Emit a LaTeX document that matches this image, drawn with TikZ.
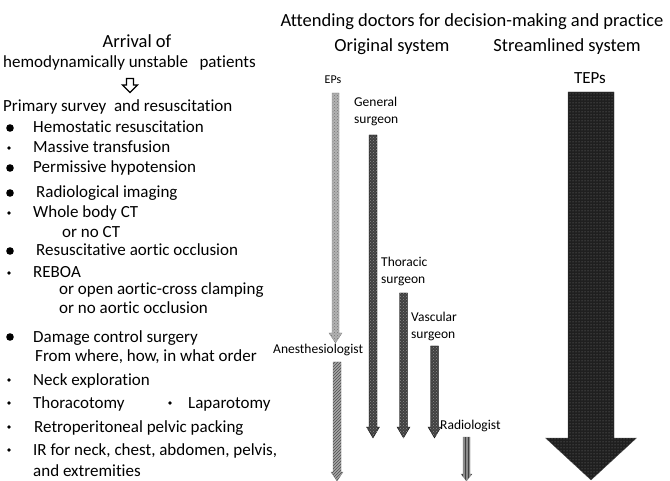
\documentclass[tikz,border=0pt]{standalone}
\usepackage{fontspec}
\setmainfont{Carlito}[Ligatures=NoCommon]
\usepackage{tikz}
\usetikzlibrary{patterns}

\tikzset{
	item/.style={anchor=base west,inner sep=0,font=\fontsize{17}{20}\selectfont},
	head/.style={anchor=base,inner sep=0,font=\fontsize{18.5}{22}\selectfont},
	doc/.style={anchor=north west,inner sep=0,align=left,font=\fontsize{13.5}{16.5}\selectfont},
	bigdot/.style={fill=black},
	smalldot/.style={fill=black},
	epsfill/.style={fill=black!30,postaction={pattern=crosshatch dots,pattern color=black!55}},
	anesfill/.style={fill=black!35,postaction={pattern=north east lines,pattern color=black!70}},
	surgfill/.style={fill=black!75,postaction={pattern=crosshatch dots,pattern color=black!45}},
	radiofill/.style={fill=black!45,postaction={pattern=vertical lines,pattern color=black!75}},
	tepsfill/.style={fill=black!88,postaction={pattern=dots,pattern color=black!50}}
}

\begin{document}
\begin{tikzpicture}[x=1pt,y=-1pt]
	\useasboundingbox (0,0) rectangle (670,481);

	\node[head] (arrival) at (137,48) {Arrival of};
	\node[item] (patients) at (3,68) {hemodynamically unstable\ \ \ patients};
	\draw[fill=white,line width=1.3] (126.5,78.5) -- (133.5,78.5) -- (133.5,85) -- (137.5,85) -- (130,92.5) -- (122.5,85) -- (126.5,85) -- cycle;
	\node[item] (primary) at (3,112) {Primary survey\ \ and resuscitation};

	\fill[bigdot] (10,128) circle (3.8);
	\node[item] (hemo) at (33,133) {Hemostatic resuscitation};
	\fill[smalldot] (9,148) circle (1.8);
	\node[item] (massive) at (33,153) {Massive transfusion};
	\fill[bigdot] (10,168) circle (3.8);
	\node[item] (permissive) at (33,173) {Permissive hypotension};
	\fill[bigdot] (10,193) circle (3.8);
	\node[item] (imaging) at (36,198) {Radiological imaging};
	\fill[smalldot] (9,213) circle (1.8);
	\node[item] (wholect) at (33,218) {Whole body CT};
	\node[item] (noct) at (62,238) {or no CT};
	\fill[bigdot] (10,251) circle (3.8);
	\node[item] (occlusion) at (36,256) {Resuscitative aortic occlusion};
	\fill[smalldot] (9,273) circle (1.8);
	\node[item] (reboa) at (33,278) {REBOA};
	\node[item] (clamping) at (59,295) {or open aortic-cross clamping};
	\node[item] (noaortic) at (59,314) {or no aortic occlusion};
	\fill[bigdot] (10,337) circle (3.8);
	\node[item] (dcs) at (33,342) {Damage control surgery};
	\node[item] (order) at (35,362) {From where, how, in what order};
	\fill[smalldot] (9,380) circle (1.8);
	\node[item] (neck) at (33,385) {Neck exploration};
	\fill[smalldot] (9,403) circle (1.8);
	\node[item] (thoracotomy) at (33,408) {Thoracotomy};
	\fill[smalldot] (170,403) circle (1.8);
	\node[item] (laparotomy) at (188,408) {Laparotomy};
	\fill[smalldot] (9,427) circle (1.8);
	\node[item] (packing) at (34,432) {Retroperitoneal pelvic packing};
	\fill[smalldot] (9,450) circle (1.8);
	\node[item] (ir) at (33,455) {IR for neck, chest, abdomen, pelvis,};
	\node[item] (extremities) at (33,476) {and extremities};

	\node[head] (title) at (472,27) {Attending doctors for decision-making and practice};
	\node[head] (original) at (392,52) {Original system};
	\node[head] (streamlined) at (567,52) {Streamlined system};

	\node[anchor=base,inner sep=0,font=\fontsize{12}{14}\selectfont] (eps) at (333,84) {EPs};
	\node[anchor=base,inner sep=0,font=\fontsize{17}{20}\selectfont] (teps) at (590,84) {TEPs};
	\node[doc] (general) at (354,97) {General\\surgeon};
	\node[doc] (thoracic) at (381,257) {Thoracic\\surgeon};
	\node[doc] (vascular) at (411,312) {Vascular\\surgeon};
	\node[anchor=base west,inner sep=0,font=\fontsize{13.5}{16.5}\selectfont] (anes) at (273,354) {Anesthesiologist};
	\node[anchor=base west,inner sep=0,font=\fontsize{13.5}{16.5}\selectfont] (radio) at (440,429) {Radiologist};

	\draw[epsfill,draw=black!45,line width=0.3] (332,93) -- (339,93) -- (339,333) -- (342,333) -- (335.5,343) -- (329,333) -- (332,333) -- cycle;
	\draw[anesfill,draw=black!50,line width=0.3] (333,362) -- (341,362) -- (341,472) -- (343,472) -- (337,481) -- (331,472) -- (333,472) -- cycle;
	\draw[surgfill,draw=black,line width=0.3] (369,135) -- (377,135) -- (377,427) -- (379.5,427) -- (373,438) -- (366.5,427) -- (369,427) -- cycle;
	\draw[surgfill,draw=black,line width=0.3] (399.5,293) -- (407.5,293) -- (407.5,427) -- (410,427) -- (403.5,438) -- (397,427) -- (399.5,427) -- cycle;
	\draw[surgfill,draw=black,line width=0.3] (430.5,346) -- (438.5,346) -- (438.5,427) -- (441,427) -- (434.5,438) -- (428,427) -- (430.5,427) -- cycle;
	\draw[radiofill,draw=black!50,line width=0.3] (463,437) -- (470,437) -- (470,474) -- (472,474) -- (466.5,481) -- (461,474) -- (463,474) -- cycle;
	\draw[tepsfill,draw=black!70,line width=0.3] (568,92) -- (614,92) -- (614,438) -- (636.5,438) -- (591,480) -- (545.5,438) -- (568,438) -- cycle;
\end{tikzpicture}
\end{document}
